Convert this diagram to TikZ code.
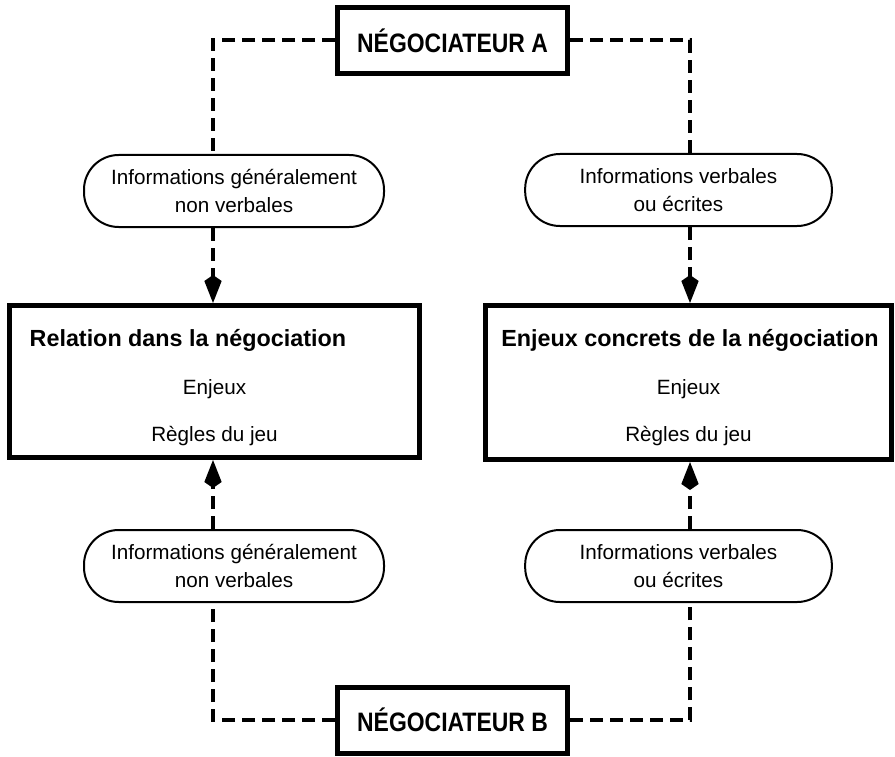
\documentclass[tikz,border=0pt]{standalone}
\usepackage{fontspec}
\setmainfont{Liberation Sans}
\newfontfamily\condfont[FakeStretch=0.86]{Liberation Sans}
\usetikzlibrary{arrows.meta}

\tikzset{
    thickbox/.style={draw, line width=3.75pt, inner sep=0pt},
    negbox/.style={thickbox, minimum width=172.5pt, minimum height=49.5pt, font=\condfont\bfseries\fontsize{20}{24}\selectfont},
    bubble/.style={draw, line width=1.5pt, rounded corners=26pt, minimum height=54pt, inner sep=0pt, align=center, font=\fontsize{15.5}{21}\selectfont},
    dashline/.style={line width=3pt, dash pattern=on 9.5pt off 5.5pt},
    arrowline/.style={dashline, -{Kite[length=21pt,width=13pt,inset=4.5pt]}},
    boxtitle/.style={anchor=base, font=\bfseries\fontsize{17.5}{21}\selectfont},
    boxtext/.style={anchor=base, font=\fontsize{15.5}{19}\selectfont},
}

\begin{document}
\begin{tikzpicture}[x=0.75pt, y=-0.75pt]
    \useasboundingbox (0,0) rectangle (895,756);

    % negotiators
    \node[negbox] (na) at (452.5,40.5) {NÉGOCIATEUR A};
    \node[negbox] (nb) at (452.5,720) {NÉGOCIATEUR B};

    % main boxes
    \node[thickbox, minimum width=307.5pt, minimum height=114pt] (rel) at (214.5,381.5) {};
    \node[thickbox, minimum width=304.5pt, minimum height=115.5pt] (enj) at (688.5,382.5) {};
    \node[boxtitle, anchor=base west] (relT) at (25,346) {Relation dans la négociation};
    \node[boxtext] (relE) at (214.5,394) {Enjeux};
    \node[boxtext] (relR) at (214.5,441) {Règles du jeu};
    \node[boxtitle] (enjT) at (690,346) {Enjeux concrets de la négociation};
    \node[boxtext] (enjE) at (688.5,394) {Enjeux};
    \node[boxtext] (enjR) at (688.5,441) {Règles du jeu};

    % information bubbles
    \node[bubble, minimum width=225pt] (ul) at (234,191) {Informations généralement\\non verbales};
    \node[bubble, minimum width=230pt] (ur) at (678.5,190) {Informations verbales\\ou écrites};
    \node[bubble, minimum width=225pt] (ll) at (234,566) {Informations généralement\\non verbales};
    \node[bubble, minimum width=230pt] (lr) at (678.5,566) {Informations verbales\\ou écrites};

    % dashed connectors
    \coordinate (lx) at (213,0);
    \coordinate (rx) at (690,0);
    \draw[dashline] (na.west) -| (lx |- ul.north);
    \draw[arrowline] (lx |- ul.south) -- (lx |- rel.north);
    \draw[dashline] (na.east) -| (rx |- ur.north);
    \draw[arrowline] (rx |- ur.south) -- (rx |- enj.north);
    \draw[dashline] (nb.west) -| (lx |- ll.south);
    \draw[arrowline] (lx |- ll.north) -- (lx |- rel.south);
    \draw[dashline] (nb.east) -| (rx |- lr.south);
    \draw[arrowline] (rx |- lr.north) -- (rx |- enj.south);
\end{tikzpicture}
\end{document}
